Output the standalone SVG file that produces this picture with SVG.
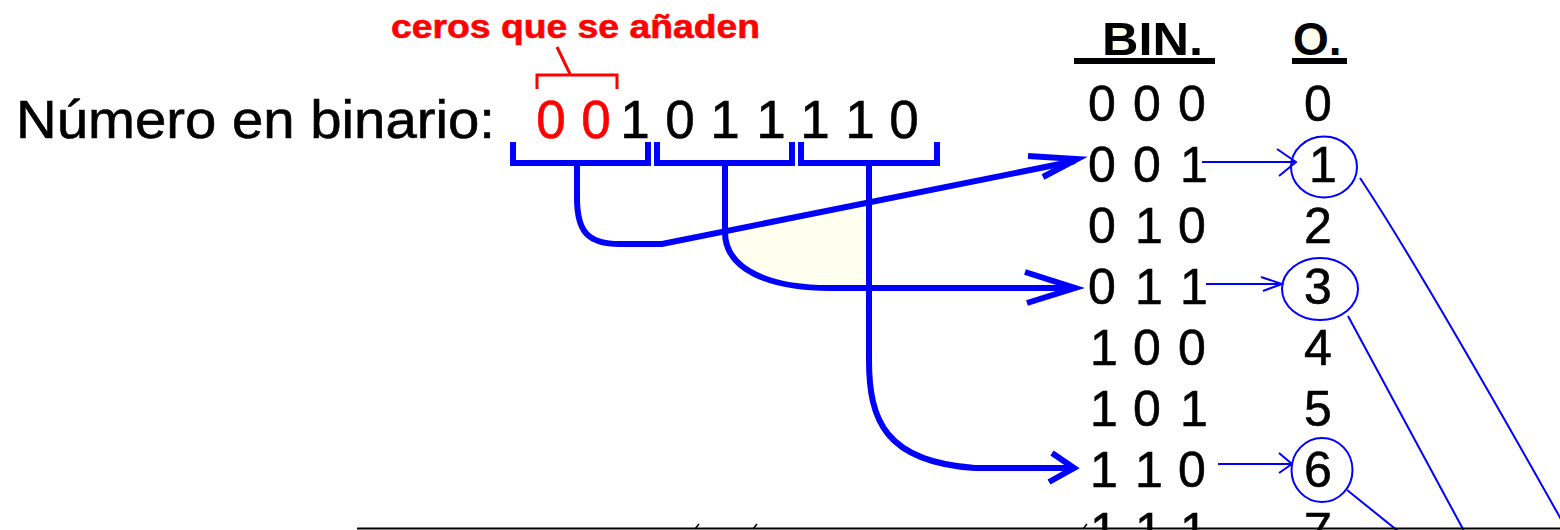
<svg xmlns="http://www.w3.org/2000/svg" width="1560" height="530" viewBox="0 0 1560 530">
  <style>
    .lbl { font-family: "Liberation Sans", Arial, sans-serif; fill: #000; stroke: #000; stroke-width: 0.6; }
    .big { font-size: 53px; }
    .row { font-size: 50px; }
    .hdr { font-size: 46px; font-weight: bold; stroke-width: 0; }
    .red { fill: #ff0000; stroke: #ff0000; }
    .thick { fill: none; stroke: #0000ff; stroke-width: 6; stroke-linejoin: miter; }
    .thin { fill: none; stroke: #0000ff; stroke-width: 2; }
    .note { fill: none; stroke: #ff0000; stroke-width: 3; }
  </style>

  <rect width="1560" height="530" fill="#ffffff"/>

  <!-- light ivory patch between the grouping lines -->
  <path d="M725,234 L869,205 L869,288 L830,288 C770,288 725,270 725,232 Z" fill="#fffff0"/>

  <!-- annotation: padding zeros -->
  <g id="note-zeros">
    <text class="lbl red" x="391" y="38" font-size="34" font-weight="bold" stroke-width="0" textLength="369" lengthAdjust="spacingAndGlyphs">ceros que se añaden</text>
    <path class="note" d="M537,89 V75 H617 V89"/>
    <path class="note" d="M557,47 L570,74"/>
  </g>

  <!-- binary number -->
  <g id="binary-number">
    <text class="lbl big" x="16" y="138" textLength="479" lengthAdjust="spacingAndGlyphs">Número en binario:</text>
    <text class="lbl big red" x="551 596" y="138" text-anchor="middle">00</text>
    <text class="lbl big" x="635 680 725 771 815 860 904" y="138" text-anchor="middle">1011110</text>
  </g>

  <!-- groups of three bits -->
  <g id="group-brackets">
    <path class="thick" d="M513,142 V163 H648 V142"/>
    <path class="thick" d="M657,142 V163 H792 V142"/>
    <path class="thick" d="M801,142 V163 H937 V142"/>
  </g>

  <!-- conversion table -->
  <g id="table-header">
    <ellipse cx="1313" cy="38" rx="9" ry="11" fill="#fffff0"/>
    <rect x="1112" y="28" width="14" height="7" fill="#fffff0"/>
    <rect x="1112" y="43" width="16" height="7" fill="#fffff0"/>
    <text class="lbl hdr" x="1102" y="55" textLength="101" lengthAdjust="spacingAndGlyphs">BIN.</text>
    <text class="lbl hdr" x="1293" y="55">O.</text>
    <rect x="1074" y="58" width="141" height="6" fill="#000"/>
    <rect x="1292" y="58" width="55" height="6" fill="#000"/>
  </g>

  <g id="row-0"><text class="lbl row" x="1102 1147 1192" y="121" text-anchor="middle">000</text><text class="lbl row" x="1318" y="121" text-anchor="middle">0</text></g>
  <g id="row-1"><text class="lbl row" x="1102 1147 1194" y="182" text-anchor="middle">001</text><text class="lbl row" x="1323" y="182" text-anchor="middle">1</text></g>
  <g id="row-2"><text class="lbl row" x="1102 1149 1192" y="243" text-anchor="middle">010</text><text class="lbl row" x="1318" y="243" text-anchor="middle">2</text></g>
  <g id="row-3"><text class="lbl row" x="1102 1149 1194" y="304" text-anchor="middle">011</text><text class="lbl row" x="1318" y="304" text-anchor="middle">3</text></g>
  <g id="row-4"><text class="lbl row" x="1104 1147 1192" y="365" text-anchor="middle">100</text><text class="lbl row" x="1318" y="365" text-anchor="middle">4</text></g>
  <g id="row-5"><text class="lbl row" x="1104 1147 1194" y="426" text-anchor="middle">101</text><text class="lbl row" x="1318" y="426" text-anchor="middle">5</text></g>
  <g id="row-6"><text class="lbl row" x="1104 1149 1192" y="487" text-anchor="middle">110</text><text class="lbl row" x="1318" y="487" text-anchor="middle">6</text></g>
  <g id="row-7"><text class="lbl row" x="1104 1149 1194" y="548" text-anchor="middle">111</text><text class="lbl row" x="1318" y="548" text-anchor="middle">7</text></g>

  <!-- circled octal digits -->
  <g id="circle-1"><ellipse class="thin" cx="1324" cy="167" rx="33" ry="30.5"/></g>
  <g id="circle-3"><ellipse class="thin" cx="1320" cy="289" rx="38" ry="31"/></g>
  <g id="circle-6"><ellipse class="thin" cx="1322" cy="470" rx="30.5" ry="32"/></g>

  <!-- connectors -->
  <g id="connectors">
    <!-- first group 001 -->
    <path class="thick" d="M577,163 V198 C577,232 588,244 620,244 L662,244 L1075,161"/>
    <path class="thick" d="M1028,156 L1077,159 L1043,177"/>
    <!-- second group 011 -->
    <path class="thick" d="M725,163 V232 C725,270 770,288 830,288 L1074,288"/>
    <path class="thick" d="M1025,272 L1075,288 L1027,303"/>
    <!-- third group 110 -->
    <path class="thick" d="M869,163 V360 C869,420 885,462 975,468 L1073,468"/>
    <path class="thick" d="M1052,453 L1074,468 L1049,482"/>

    <!-- table rows to octal digits -->
    <path class="thin" d="M1202,162 H1295"/>
    <path class="thin" d="M1277,149 L1296,162 L1279,176"/>
    <path class="thin" d="M1206,284 H1282"/>
    <path class="thin" d="M1261,277 L1282,284 L1263,291"/>
    <path class="thin" d="M1218,464 H1292"/>
    <path class="thin" d="M1279,453 L1292,464 L1279,473"/>

    <!-- leads from the circled digits -->
    <path class="thin" d="M1360,178 Q1418,265 1562,521"/>
    <path class="thin" d="M1348,316 L1464,531"/>
    <path class="thin" d="M1347,490 L1398,531"/>
  </g>

  <!-- rule along the lower edge -->
  <g id="base-rule">
    <line x1="357" y1="528.5" x2="1560" y2="528.5" stroke="#000" stroke-width="2"/>
    <path d="M695,529 L699,524 M753,529 L757,524 M1083,529 L1087,524" stroke="#000" stroke-width="1.5" fill="none"/>
  </g>
</svg>
